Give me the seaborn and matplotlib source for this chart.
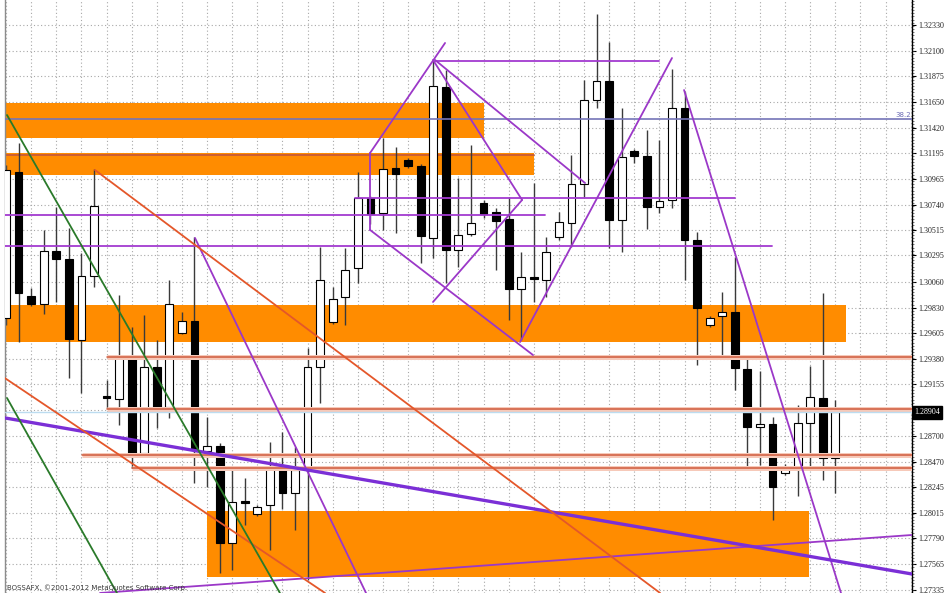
import numpy as np
import matplotlib
matplotlib.use("Agg")
import matplotlib.pyplot as plt
import matplotlib.transforms as mtransforms
import seaborn as sns

# ----------------------------------------------------------------------
# 1. Candles (oldest bar first)
# ----------------------------------------------------------------------
opens = [1.29740, 1.31030, 1.29934, 1.29863, 1.30332, 1.30261, 1.29545, 1.30111, 1.29050, 1.29023,
         1.29395, 1.28546, 1.29306, 1.28953, 1.29607, 1.29713, 1.28564, 1.28608, 1.27750, 1.28122,
         1.28007, 1.28086, 1.28405, 1.28192, 1.28413, 1.29306, 1.29704, 1.29925, 1.30182, 1.30800,
         1.30668, 1.31066, 1.31136, 1.31083, 1.30447, 1.31782, 1.30341, 1.30482, 1.30756, 1.30677,
         1.30615, 1.29996, 1.30102, 1.30076, 1.30456, 1.30580, 1.30924, 1.31667, 1.31835, 1.30606,
         1.31216, 1.31172, 1.30721, 1.30783, 1.31596, 1.30429, 1.29678, 1.29757, 1.29793, 1.29289,
         1.28776, 1.28802, 1.28369, 1.28413, 1.28811, 1.29032, 1.28502]
highs = [1.31092, 1.31287, 1.30005, 1.30518, 1.30721, 1.30535, 1.30314, 1.31057, 1.29191, 1.29943,
         1.29660, 1.29766, 1.29545, 1.30076, 1.29793, 1.30456, 1.28864, 1.28634, 1.28396, 1.28325,
         1.28086, 1.28643, 1.28732, 1.28599, 1.29474, 1.30367, 1.30014, 1.30358, 1.31030, 1.30818,
         1.31331, 1.31251, 1.31154, 1.31101, 1.32021, 1.31932, 1.30977, 1.31269, 1.30783, 1.30712,
         1.30809, 1.30323, 1.30933, 1.30456, 1.30677, 1.31181, 1.31844, 1.32427, 1.32180, 1.31596,
         1.31234, 1.31402, 1.31313, 1.31941, 1.31738, 1.30500, 1.29757, 1.29969, 1.30279, 1.29386,
         1.29271, 1.28864, 1.28449, 1.28970, 1.29315, 1.29961, 1.29015]
lows = [1.29678, 1.29527, 1.29846, 1.29775, 1.29881, 1.29209, 1.29077, 1.30014, 1.28944, 1.28794,
        1.28413, 1.28520, 1.28767, 1.28856, 1.29598, 1.28281, 1.28245, 1.27485, 1.27512, 1.27910,
        1.27989, 1.27688, 1.28051, 1.27865, 1.27423, 1.28988, 1.29687, 1.29678, 1.30049, 1.30571,
        1.30518, 1.30491, 1.31066, 1.30226, 1.30270, 1.30049, 1.30191, 1.30465, 1.30624, 1.30164,
        1.29722, 1.29545, 1.29881, 1.29925, 1.30429, 1.30367, 1.30809, 1.31596, 1.30358, 1.30323,
        1.31110, 1.30526, 1.30668, 1.30712, 1.30076, 1.29324, 1.29660, 1.29395, 1.29103, 1.28396,
        1.28440, 1.27954, 1.28352, 1.28166, 1.28396, 1.28307, 1.28192]
closes = [1.31048, 1.29961, 1.29863, 1.30332, 1.30261, 1.29554, 1.30111, 1.30730, 1.29032, 1.29395,
          1.28546, 1.29306, 1.28953, 1.29863, 1.29713, 1.28581, 1.28608, 1.27750, 1.28113, 1.28104,
          1.28069, 1.28413, 1.28192, 1.28396, 1.29306, 1.30076, 1.29908, 1.30164, 1.30800, 1.30659,
          1.31057, 1.31013, 1.31083, 1.30465, 1.31791, 1.30341, 1.30473, 1.30580, 1.30659, 1.30597,
          1.29996, 1.30102, 1.30084, 1.30323, 1.30588, 1.30924, 1.31667, 1.31835, 1.30606, 1.31163,
          1.31172, 1.30721, 1.30774, 1.31596, 1.30429, 1.29828, 1.29740, 1.29793, 1.29298, 1.28776,
          1.28802, 1.28245, 1.28413, 1.28811, 1.29041, 1.28502, 1.28904]

last_price = 1.28904

# price scale labels on the right
tick_values = [1.32330, 1.32100, 1.31875, 1.31650, 1.31420, 1.31195, 1.30965, 1.30740, 1.30515,
               1.30295, 1.30060, 1.29830, 1.29605, 1.29380, 1.29155, 1.28925, 1.28700, 1.28470,
               1.28245, 1.28015, 1.27790, 1.27565, 1.27335]
tick_labels = ["1.32330", "1.32100", "1.31875", "1.31650", "1.31420", "1.31195", "1.30965",
               "1.30740", "1.30515", "1.30295", "1.30060", "1.29830", "1.29605", "1.29380",
               "1.29155", "", "1.28700", "1.28470", "1.28245", "1.28015", "1.27790", "1.27565",
               "1.27335"]

# ----------------------------------------------------------------------
# 2. Drawn objects (bar index, price)
# ----------------------------------------------------------------------
# orange zones
zone_x0 = [-0.1, -0.1, -0.1, 16.0]
zone_x1 = [38.0, 42.0, 66.85, 63.9]
zone_lo = [1.31331, 1.31004, 1.29527, 1.27450]
zone_hi = [1.31640, 1.31198, 1.29855, 1.28033]

# horizontal support / resistance (salmon)
sr_price = [1.29395, 1.28935, 1.28528, 1.28413]
sr_start = [8.04, 8.04, 6.05, 10.03]

# purple horizontal levels
lvl_price = [1.30650, 1.30376, 1.30800, 1.32012]
lvl_start = [-0.1, -0.1, 27.78, 34.14]
lvl_end = [42.9, 60.96, 58.02, 51.97]

# purple trend lines: x0, p0, x1, p1
purple_x0 = [28.97, 28.97, 28.97, 33.98, 41.07, 34.14, 40.91, 53.96, 15.04, 7.48]
purple_p0 = [1.31198, 1.31198, 1.30518, 1.32021, 1.30783, 1.32021, 1.29527, 1.31755, 1.30447, 1.27308]
purple_x1 = [28.97, 34.94, 41.94, 41.07, 33.98, 46.08, 53.00, 66.45, 28.65, 72.1]
purple_p1 = [1.30518, 1.32171, 1.29412, 1.30783, 1.29881, 1.30933, 1.32038, 1.27308, 1.27308, 1.27821]

# thick blue-violet trend line
violet_x = [-0.1, 72.1]
violet_p = [1.28856, 1.27476]

# red-orange channel lines
red_x0 = [7.08, -0.1]
red_p0 = [1.31048, 1.29209]
red_x1 = [52.05, 25.39]
red_p1 = [1.27308, 1.27308]

# green lines
green_x0 = [0.08, 0.08]
green_p0 = [1.31534, 1.29032]
green_x1 = [21.8, 8.83]
green_p1 = [1.27308, 1.27308]

fib_price = 1.31499
band2_top = 1.31181

# ----------------------------------------------------------------------
# 3. Plot
# ----------------------------------------------------------------------
sns.set_theme(style="white")
plt.rcParams['font.family'] = ['DejaVu Sans']

fig = plt.figure(figsize=(9.48, 5.93), dpi=100)
ax = fig.add_axes([5 / 948, 0, 907 / 948, 1])
ax.set_facecolor("white")

xlim = (-0.08, 72.1)
ylim = (1.27308, 1.32551)

# grid
for v in tick_values:
    ax.axhline(v, color="#a8a8a8", lw=0.8, ls=(0, (1, 2.2)), zorder=0)
for gx in range(0, 73, 2):
    ax.axvline(gx, color="#a8a8a8", lw=0.8, ls=(0, (1, 2.2)), zorder=0)

# orange zones
for x0, x1, lo, hi in zip(zone_x0, zone_x1, zone_lo, zone_hi):
    ax.fill_between([x0, x1], lo, hi, color="#ff8c00", lw=0, zorder=1)
ax.plot([-0.1, 42.0], [band2_top, band2_top], color="#c4573a", lw=1.2, zorder=1.5)

# candles
x = np.arange(len(opens))
o = np.array(opens)
c = np.array(closes)
bottom = np.minimum(o, c)
height = np.maximum(np.abs(c - o), 0.00002)
body_col = ["white" if cc > oo else "black" for oo, cc in zip(o, c)]
ax.vlines(x, lows, highs, color="#3a3a3a", lw=1.0, zorder=2)
ax.bar(x, height, bottom=bottom, width=0.62, color=body_col, edgecolor="black",
       linewidth=0.8, zorder=3)

# fib level
ax.plot([-0.1, 72.1], [fib_price, fib_price], color="#7474b8", lw=1.2, zorder=4)

# salmon levels
for p, s in zip(sr_price, sr_start):
    ax.plot([s, 72.1], [p, p], color="#f6c9b9", lw=3.6, zorder=4, solid_capstyle="butt")
    ax.plot([s, 72.1], [p, p], color="#cf5b3c", lw=1.1, zorder=4.1)

# bid line
ax.plot([-0.1, 72.1], [last_price, last_price], color="#bcdcf0", lw=1.0, zorder=4)

# purple levels
for p, s, e in zip(lvl_price, lvl_start, lvl_end):
    ax.plot([s, e], [p, p], color="#a23ad0", lw=1.3, zorder=5)

for x0, p0, x1, p1 in zip(purple_x0, purple_p0, purple_x1, purple_p1):
    ax.plot([x0, x1], [p0, p1], color="#9b38c8", lw=1.3, zorder=5)

ax.plot(violet_x, violet_p, color="#7b2fd6", lw=2.4, zorder=5)

for x0, p0, x1, p1 in zip(red_x0, red_p0, red_x1, red_p1):
    ax.plot([x0, x1], [p0, p1], color="#e4572a", lw=1.3, zorder=5)

for x0, p0, x1, p1 in zip(green_x0, green_p0, green_x1, green_p1):
    ax.plot([x0, x1], [p0, p1], color="#2a7a2a", lw=1.3, zorder=5)

ax.set_xlim(*xlim)
ax.set_ylim(*ylim)

# axis styling: price scale on the right
ax.yaxis.tick_right()
ax.set_yticks(tick_values)
ax.set_yticklabels(tick_labels, fontsize=5.8, family="Liberation Serif", color="#222222")
ax.set_yticks(np.arange(1.27310, 1.32550, 0.00028), minor=True)
ax.tick_params(axis="y", which="major", length=3, width=0.8, color="black", pad=1.5, right=True, left=False)
ax.tick_params(axis="y", which="minor", length=1.5, width=0.5, color="#444444", right=True, left=False)
ax.set_xticks([])
for side in ["top", "bottom"]:
    ax.spines[side].set_visible(False)
ax.spines["right"].set_color("black")
ax.spines["right"].set_linewidth(1.0)
ax.spines["left"].set_color("#8c8c8c")
ax.spines["left"].set_linewidth(1.0)

# last price box
trans = mtransforms.blended_transform_factory(ax.transAxes, ax.transData)
ax.text(1.003, last_price, "1.28904", transform=trans, fontsize=5.8, family="Liberation Serif",
        color="white", ha="left", va="center", zorder=10, clip_on=False,
        bbox=dict(boxstyle="square,pad=0.25", fc="black", ec="black"))

ax.text(0.999, fib_price + 0.00012, "38.2", transform=trans, fontsize=5, color="#6a6ab4",
        ha="right", va="bottom", zorder=10)

ax.text(0.002, 0.003, "BOSSAFX, \u00a92001-2012 MetaQuotes Software Corp.", transform=ax.transAxes,
        fontsize=5, color="#3a3a3a", ha="left", va="bottom", zorder=10)

fig.savefig("out.png", dpi=100)
